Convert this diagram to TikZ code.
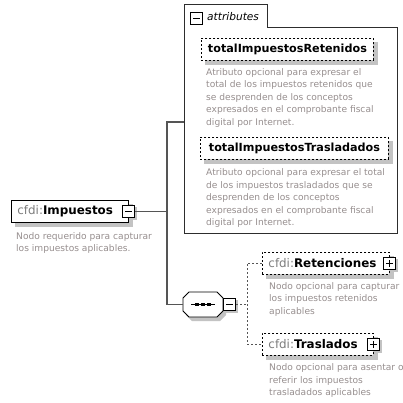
\documentclass[tikz,border=0pt]{standalone}
\usepackage{fontspec}
\setmainfont{DejaVu Sans}
\usetikzlibrary{backgrounds}
\definecolor{desccol}{RGB}{150,142,142}
\definecolor{pfxcol}{RGB}{125,125,125}
\definecolor{shad}{RGB}{195,195,195}
\definecolor{conn}{RGB}{85,85,85}
\definecolor{frame}{RGB}{45,45,45}
\newcommand{\lblfont}{\fontsize{11.9}{13}\selectfont}
\newcommand{\attrfont}{\fontsize{11.2}{13}\selectfont}
\newcommand{\pfx}[1]{{\fontseries{m}\selectfont\color{pfxcol}#1}}
\begin{document}
\begin{tikzpicture}[x=1pt,y=-1pt,
  elembox/.style={draw=black, line width=0.9pt, fill=white, minimum height=22pt,
    inner xsep=6pt, inner ysep=0pt, anchor=north west, align=left, font=\lblfont\bfseries},
  optbox/.style={elembox, dash pattern=on 2pt off 2pt},
  attrbox/.style={draw=black, line width=0.9pt, dash pattern=on 2pt off 2pt, fill=white,
    minimum height=22pt, inner sep=0pt, anchor=north west, font=\attrfont\bfseries},
  pmbox/.style={draw=black, line width=0.9pt, fill=white, minimum size=12pt, inner sep=0pt},
  minusbox/.style={pmbox, path picture={\draw[line width=0.9pt]
    ([xshift=2.5pt]path picture bounding box.west) -- ([xshift=-2.5pt]path picture bounding box.east);}},
  plusbox/.style={pmbox, path picture={\draw[line width=0.9pt]
    ([xshift=2.5pt]path picture bounding box.west) -- ([xshift=-2.5pt]path picture bounding box.east)
    ([yshift=-2.5pt]path picture bounding box.north) -- ([yshift=2.5pt]path picture bounding box.south);}},
  desc/.style={anchor=north west, inner sep=0pt, align=left, text=desccol,
    font=\fontsize{9.1}{12.5}\selectfont},
  connline/.style={draw=conn, line width=1.3pt},
  dconn/.style={draw=conn, line width=1pt, dash pattern=on 2pt off 2pt},
  shadowfill/.style={fill=shad},
]
\useasboundingbox (0,0) rectangle (403,402);

% attributes container
\coordinate (tabtl) at (184,4);
\coordinate (tabbr) at (267,27);
\coordinate (attrbr) at (397,233);
\node[inner sep=0pt, minimum width=213pt, minimum height=229pt, anchor=north west] (attrs) at (184,4) {};
\draw[frame, line width=0.9pt] (tabtl) -- (tabtl -| tabbr) -- (tabbr) -- (tabbr -| attrbr) -- (attrbr) -- (attrbr -| tabtl) -- cycle;
\node[minusbox] (tabm) at (196.5,18) {};
\node[anchor=west, inner sep=0pt, font=\fontsize{10.6}{12}\itshape] (tablbl) at (207,17) {attributes};

% attributes
\node[attrbox, minimum width=172pt] (a1) at (201,38) {totalImpuestosRetenidos};
\node[desc] (a1d) at (206,68) {Atributo opcional para expresar el\\total de los impuestos retenidos que\\se desprenden de los conceptos\\expresados en el comprobante fiscal\\digital por Internet.};
\node[attrbox, minimum width=188pt] (a2) at (200,137) {totalImpuestosTrasladados};
\node[desc] (a2d) at (206,168.5) {Atributo opcional para expresar el total\\de los impuestos trasladados que se\\desprenden de los conceptos\\expresados en el comprobante fiscal\\digital por Internet.};

% main element
\node[elembox, text width=105pt] (imp) at (11,200) {\pfx{cfdi:}Impuestos};
\node[minusbox] (impm) at (imp.east) {};
\node[desc, font=\fontsize{9.1}{12}\selectfont] (impd) at (16,232.5) {Nodo requerido para capturar\\los impuestos aplicables.};

% sequence compositor (octagon)
\node[inner sep=0pt, minimum width=40pt, minimum height=25pt] (seq) at (203,304.5) {};
\draw[line width=0.9pt, fill=white, shift={(seq.center)}]
  (-20,-6.5) -- (-14,-12.5) -- (14,-12.5) -- (20,-6.5) -- (20,6.5) -- (14,12.5) -- (-14,12.5) -- (-20,6.5) -- cycle;
\draw[line width=1pt] ([xshift=-12pt]seq.center) -- ([xshift=12pt]seq.center);
\foreach \dx in {-6,0,6} \fill ([xshift=\dx pt]seq.center) +(-1.6pt,-1.6pt) rectangle +(1.6pt,1.6pt);
\node[minusbox, anchor=west] (seqm) at (seq.east) {};

% child elements
\node[optbox, text width=115pt] (ret) at (262,252) {\pfx{cfdi:}Retenciones};
\node[plusbox] (retp) at (ret.east) {};
\node[desc] (retd) at (269,282) {Nodo opcional para capturar\\los impuestos retenidos\\aplicables};
\node[optbox, text width=99pt] (tras) at (262,333) {\pfx{cfdi:}Traslados};
\node[plusbox] (trasp) at (tras.east) {};
\node[desc] (trasd) at (269,363.5) {Nodo opcional para asentar o\\referir los impuestos\\trasladados aplicables};

% connectors
\coordinate (jtop) at (167,122);
\coordinate (dj) at (247,262);
\draw[connline] (impm.east) -- (impm.east -| jtop);
\draw[connline] (attrs.west |- jtop) -- (jtop) -- (jtop |- seq.west) -- (seq.west);
\draw[dconn] (seqm.east) -- (seqm.east -| dj);
\draw[dconn] (ret.west) -- (ret.west -| dj) -- (tras.west -| dj) -- (tras.west);

% drop shadows
\begin{scope}[on background layer]
  \foreach \n in {imp,a1,a2,ret,tras}
    \fill[shadowfill] ([shift={(4,4)}]\n.north west) rectangle ([shift={(4,4)}]\n.south east);
  \foreach \n in {impm,seqm,retp,trasp}
    \fill[shadowfill] ([shift={(2,2)}]\n.north west) rectangle ([shift={(2,2)}]\n.south east);
  \fill[shadowfill, shift={(seq.center)}, xshift=3pt, yshift=-4pt]
    (-20,-6.5) -- (-14,-12.5) -- (14,-12.5) -- (20,-6.5) -- (20,6.5) -- (14,12.5) -- (-14,12.5) -- (-20,6.5) -- cycle;
\end{scope}
\end{tikzpicture}
\end{document}
